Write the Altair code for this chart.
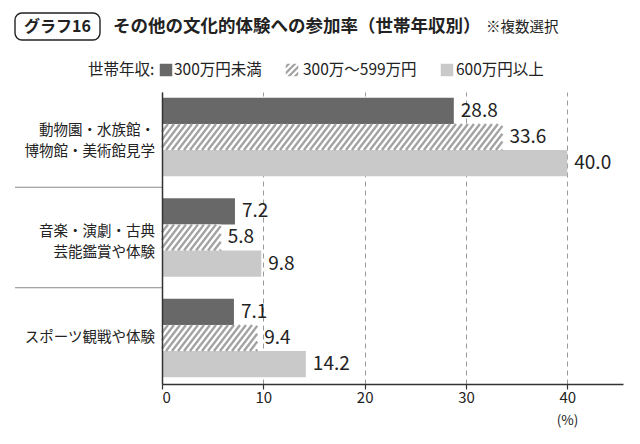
import altair as alt
import pandas as pd

# ---- data ----
categories = ["動物園・水族館・\n博物館・美術館見学", "音楽・演劇・古典\n芸能鑑賞や体験", "スポーツ観戦や体験"]
series = ["300万円未満", "300万～599万円", "600万円以上"]
under_300 = [28.8, 7.2, 7.1]
from_300_to_599 = [33.6, 5.8, 9.4]
over_600 = [40.0, 9.8, 14.2]
x_ticks = [0, 10, 20, 30, 40]

rows = []
for g, cat in enumerate(categories):
    for s, vals in enumerate([under_300, from_300_to_599, over_600]):
        rows.append({"cat": cat, "g": g, "s": s, "series": series[s], "value": vals[g]})
df = pd.DataFrame(rows)
one = pd.DataFrame({"d": [0]})

# ---- style ----
FONT = "Noto Sans CJK JP"
INK = "#222222"
DARK = "#686868"
LIGHT = "#c9c9c9"
HATCH = "#a3a3a3"
BAR = 0.26      # bar thickness in group units
RUN = 1.974     # horizontal run of one hatch stripe (x units)
GAP = 0.592     # hatch period (x units)

xs = alt.Scale(domain=[0, 45.5], nice=False, zero=False)
ys = alt.Scale(domain=[-0.448, 2.458], reverse=True, nice=False, zero=False)

x_axis = alt.Axis(values=x_ticks, grid=True, gridDash=[5, 4], gridColor="#9a9a9a", gridWidth=1,
                  domainColor="#333333", domainWidth=1.5, tickColor="#333333", tickWidth=1.2,
                  tickSize=5, labelFontSize=15, labelColor=INK, labelPadding=1,
                  title="(%)", titleX=405, titleY=36, titleAlign="center", titleBaseline="middle",
                  titleFontSize=13.5, titleFontWeight="normal", titleColor=INK)
y_axis = alt.Axis(grid=False, ticks=False, labels=False, domainColor="#333333", domainWidth=1.5,
                  title=None, zindex=1)


def X(field):
    return alt.X(field, scale=xs, axis=x_axis)


def Y(field):
    return alt.Y(field, scale=ys, axis=y_axis)


base = alt.Chart(df).transform_calculate(
    center=f"datum.g + (datum.s - 1) * {BAR}",
    top=f"datum.g + (datum.s - 1) * {BAR} - {BAR / 2}",
    bot=f"datum.g + (datum.s - 1) * {BAR} + {BAR / 2}",
    x0="0",
)

bars = base.mark_rect().encode(
    x=X("x0:Q"),
    x2="value:Q",
    y=Y("top:Q"),
    y2="bot:Q",
    color=alt.Color("series:N", scale=alt.Scale(domain=series, range=[DARK, "#ffffff", LIGHT]), legend=None),
)

stripes = (
    alt.Chart(df)
    .transform_filter("datum.s == 1")
    .transform_calculate(ks=f"sequence(-{RUN}, datum.value, {GAP})")
    .transform_flatten(["ks"])
    .transform_calculate(
        f0=f"max(0, -datum.ks / {RUN})",
        f1=f"min(1, (datum.value - datum.ks) / {RUN})",
    )
    .transform_filter("datum.f1 > datum.f0")
    .transform_calculate(
        xa=f"datum.ks + datum.f0 * {RUN}",
        xb=f"datum.ks + datum.f1 * {RUN}",
        ya=f"datum.g + {BAR / 2} - datum.f0 * {BAR}",
        yb=f"datum.g + {BAR / 2} - datum.f1 * {BAR}",
    )
    .mark_rule(color=HATCH, strokeWidth=2.4)
    .encode(x=X("xa:Q"), x2="xb:Q", y=Y("ya:Q"), y2="yb:Q")
)

value_labels = base.mark_text(align="left", baseline="middle", dx=7, fontSize=19, color=INK, font=FONT).encode(
    x=X("value:Q"),
    y=Y("center:Q"),
    text=alt.Text("value:Q", format=".1f"),
)

cat_labels = base.transform_filter("datum.s == 1").transform_calculate(
    ycat="datum.g - (indexof(datum.cat, '\\n') >= 0 ? 0.055 : 0)"
).mark_text(
    align="right", baseline="middle", fontSize=14.5, lineHeight=21, lineBreak="\n", color=INK, font=FONT
).encode(
    x=alt.value(-7),
    y=Y("ycat:Q"),
    text="cat:N",
)

separators = base.transform_filter("datum.s == 0 && datum.g < 2").transform_calculate(
    sep="datum.g + 0.5"
).mark_rule(color="#8a8a8a", strokeWidth=1).encode(
    x=alt.value(-147), x2=alt.value(0),
    y=Y("sep:Q"),
)

# ---- title ----
title_box = alt.Chart(one).mark_rect(cornerRadius=7, fill="white", stroke=INK, strokeWidth=1.4).encode(
    x=alt.value(-147), x2=alt.value(-62), y=alt.value(-79), y2=alt.value(-52)
)
title_tag = alt.Chart(one).mark_text(text="グラフ16", fontSize=16, fontWeight="bold", color=INK, font=FONT,
                                     align="center", baseline="middle").encode(x=alt.value(-104.5), y=alt.value(-65))
title_main = alt.Chart(one).mark_text(text="その他の文化的体験への参加率（世帯年収別）", fontSize=17.5, fontWeight="bold",
                                      color=INK, font=FONT, align="left", baseline="middle").encode(
    x=alt.value(-49), y=alt.value(-65))
title_note = alt.Chart(one).mark_text(text="※複数選択", fontSize=14.5, color=INK, font=FONT,
                                      align="left", baseline="middle").encode(x=alt.value(324), y=alt.value(-64))

# ---- legend ----
def band(c1, c2):
    if c2 <= 0:
        pts = [(-1, c1 + 1), (c1 + 1, -1), (c2 + 1, -1), (-1, c2 + 1)]
    else:
        pts = [(c1 - 1, 1), (1, c1 - 1), (1, c2 - 1), (c2 - 1, 1)]
    return "M" + " L".join(f"{x:.3f},{y:.3f}" for x, y in pts) + " Z"

hatch_path = " ".join(band(c, c + 0.5) for c in [-1.75, -0.75, 0.25, 1.25])

LY = -22
LFS = 15.5
leg_head = alt.Chart(one).mark_text(text="世帯年収:", fontSize=LFS, color=INK, font=FONT, align="left",
                                    baseline="middle").encode(x=alt.value(-74), y=alt.value(LY))
sw_dark = alt.Chart(one).mark_point(shape="square", filled=True, size=156, color=DARK, opacity=1, strokeWidth=0).encode(
    x=alt.value(4), y=alt.value(LY))
lt_dark = alt.Chart(one).mark_text(text=series[0], fontSize=LFS, color=INK, font=FONT, align="left",
                                   baseline="middle").encode(x=alt.value(12), y=alt.value(LY))
sw_hatch = alt.Chart(one).mark_point(shape=hatch_path, filled=True, size=156, color=HATCH, opacity=1, strokeWidth=0).encode(
    x=alt.value(130), y=alt.value(LY))
lt_hatch = alt.Chart(one).mark_text(text=series[1], fontSize=LFS, color=INK, font=FONT, align="left",
                                    baseline="middle").encode(x=alt.value(141), y=alt.value(LY))
sw_light = alt.Chart(one).mark_point(shape="square", filled=True, size=156, color=LIGHT, opacity=1, strokeWidth=0).encode(
    x=alt.value(285), y=alt.value(LY))
lt_light = alt.Chart(one).mark_text(text=series[2], fontSize=LFS, color=INK, font=FONT, align="left",
                                    baseline="middle").encode(x=alt.value(294), y=alt.value(LY))

chart = alt.layer(
    bars, stripes, value_labels, cat_labels, separators,
    title_box, title_tag, title_main, title_note,
    leg_head, sw_dark, lt_dark, sw_hatch, lt_hatch, sw_light, lt_light,
).properties(
    width=461, height=292,
    padding={"left": 162, "top": 92, "right": 17, "bottom": 60},
    autosize=alt.AutoSizeParams(type="none"),
    background="white",
).configure_view(stroke=None).configure_axis(labelFont=FONT, titleFont=FONT)

chart.save("out.html", embed_options={"renderer": "svg", "actions": False})
